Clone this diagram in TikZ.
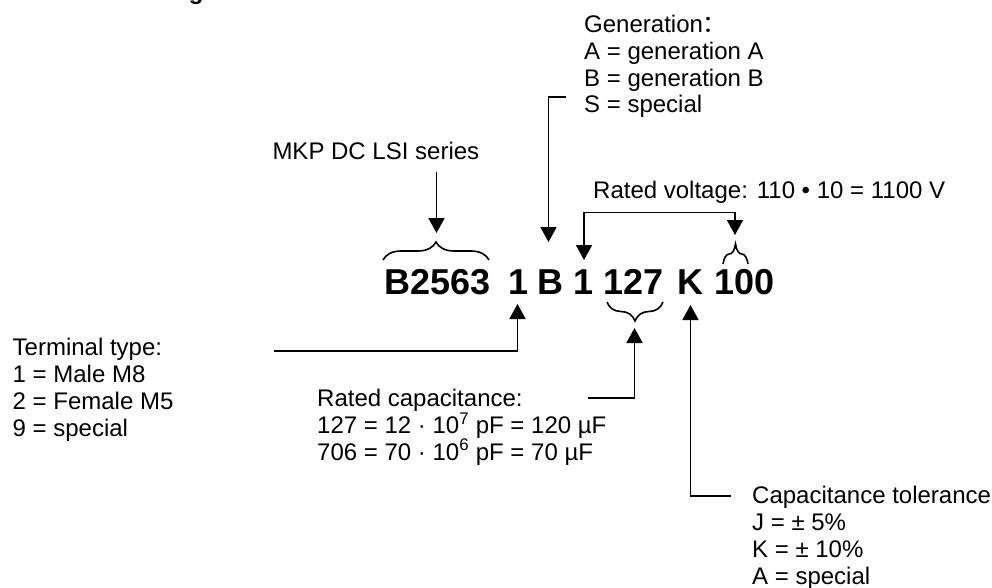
\documentclass[tikz,border=0pt]{standalone}
\usepackage{fontspec}
\setmainfont{Liberation Sans}
\newfontfamily\cjkfont{Noto Sans CJK SC}
\usetikzlibrary{arrows.meta,decorations.pathreplacing}
\begin{document}
\begin{tikzpicture}[x=1pt,y=-1pt,
  txt/.style={font=\fontsize{24}{26.7}\selectfont, align=left, inner sep=0pt, anchor=base west},
  codetxt/.style={font=\fontsize{36}{40}\selectfont\bfseries, inner sep=0pt, anchor=base west},
  conn/.style={line width=1.8pt, line join=miter},
  tip/.tip={Triangle[length=15pt,width=16pt]},
  arr/.style={conn, -tip},
  brc/.style={line width=1.6pt, decorate, decoration={brace, amplitude=#1}}]
\useasboundingbox (0,0) rectangle (992,588);
% texts (base anchor = baseline of the last line)
\node[font=\fontsize{24}{26}\selectfont\bfseries, inner sep=0pt, anchor=base west] (title) at (102,0) {Ordering code};
\node[txt] (gen) at (584,113) {Generation{\cjkfont ：}\\A = generation A\\B = generation B\\S = special};
\node[txt] (mkp) at (272.3,160) {MKP DC LSI series};
\node[txt] (volt) at (593,198) {Rated voltage: 110 • 10 = 1100 V};
\node[codetxt] (code) at (384.4,294.5) {B2563\hspace{18pt}1\hspace{8.5pt}B\hspace{10pt}1\hspace{10pt}127\hspace{14pt}K\hspace{11pt}100};
\node[txt] (term) at (12.5,436) {Terminal type:\\1 = Male M8\\2 = Female M5\\9 = special};
\node[txt] (cap) at (317,460) {Rated capacitance:\\127 = 12 · 10\textsuperscript{7} pF = 120 µF\\706 = 70 · 10\textsuperscript{6} pF = 70 µF};
\node[txt] (tol) at (752,584) {Capacitance tolerance\\J = ± 5\%\\K = ± 10\%\\A = special};
% braces
\draw[brc=18pt] (383,260) -- (489,260);
\draw[brc=20pt] (723,264) -- (748,264);
\draw[brc=19pt] (663,302) -- (607,302);
% connectors
\coordinate (mkpS) at (436.5,172);
\coordinate (brA) at (436.5,233);
\draw[arr] (mkpS) -- (brA);
\coordinate (g0) at (566,97);
\coordinate (gB) at (548.5,242);
\draw[arr] (g0) -| (gB);
\coordinate (v1) at (584,260);
\coordinate (vm) at (659.5,212.5);
\coordinate (v2) at (735,235);
\draw[conn, tip-tip] (v1) |- (vm) -| (v2);
\coordinate (t0) at (274,351);
\coordinate (t1) at (517.5,304);
\draw[arr] (t0) -| (t1);
\coordinate (c0) at (588,398);
\coordinate (c1) at (634.5,328);
\draw[arr] (c0) -| (c1);
\coordinate (k0) at (731,496);
\coordinate (k1) at (690.5,305);
\draw[arr] (k0) -| (k1);
\end{tikzpicture}
\end{document}
